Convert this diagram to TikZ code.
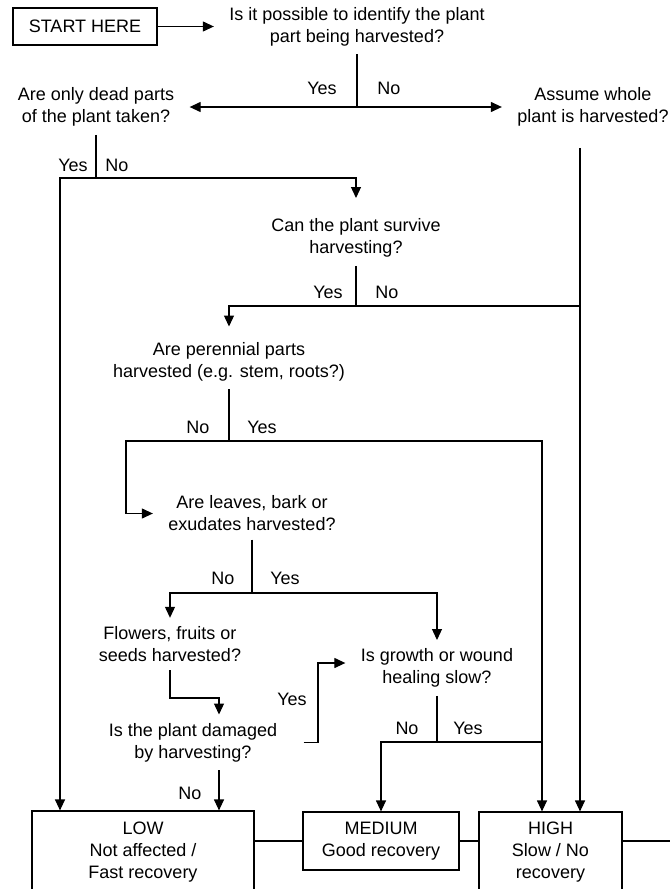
\documentclass[tikz,border=0pt]{standalone}
\usepackage{fontspec}
\setmainfont{Liberation Sans}
\usetikzlibrary{arrows.meta}

\begin{document}
\begin{tikzpicture}[x=1pt, y=-1pt, >={Triangle[length=11pt,width=10pt]}, line width=1.2pt,
    every node/.style={font=\fontsize{18}{22}\selectfont},
    q/.style={align=center, inner xsep=15pt, inner ysep=8pt},
    lbl/.style={inner sep=0pt},
    res/.style={draw, align=center, inner sep=0pt}]

        \clip (0,0) rectangle (670,889);

        % Questions
        \node[res, minimum width=144pt, minimum height=37pt] (start) at (85,26.5) {START HERE};
        \node[q] (ident) at (357,26.5) {Is it possible to identify the plant\\part being harvested?};
        \node[q] (dead) at (96,107) {Are only dead parts\\of the plant taken?};
        \node[q] (whole) at (593,107) {Assume whole\\plant is harvested?};
        \node[q] (surv) at (356,238) {Can the plant survive\\harvesting?};
        \node[q] (peren) at (229,361.5) {Are perennial parts\\harvested (e.g. stem, roots?)};
        \node[q] (leaves) at (252,513.5) {Are leaves, bark or\\exudates harvested?};
        \node[q] (flow) at (170,644) {Flowers, fruits or\\seeds harvested?};
        \node[q] (growth) at (437,668) {Is growth or wound\\healing slow?};
        \node[q] (damg) at (193,742.5) {Is the plant damaged\\by harvesting?};

        % Outcomes
        \node[res, minimum width=222pt, minimum height=82pt] (low) at (143,852) {LOW\\Not affected /\\Fast recovery};
        \node[res, minimum width=156pt, minimum height=58pt] (med) at (381,841) {MEDIUM\\Good recovery};
        \node[res, minimum width=143pt, minimum height=80pt] (high) at (550.5,852) {HIGH\\Slow / No\\recovery};

        % Junctions and corners
        \coordinate (j1) at (357,107);
        \coordinate (j2) at (96,178);
        \coordinate (j3) at (356,306);
        \coordinate (j4) at (229,441);
        \coordinate (j5) at (252,593);
        \coordinate (j6) at (437,742);
        \coordinate (kl) at (60,178);
        \coordinate (kw) at (580,306);
        \coordinate (kp) at (542,441);
        \coordinate (kx) at (126,441);
        \coordinate (kf) at (219,698);
        \coordinate (ky) at (318,663);
        \coordinate (redge) at (670,841);

        % Yes / No labels
        \node[lbl] (yes1) at (322,88) {Yes};
        \node[lbl] (no1) at (389,88) {No};
        \node[lbl] (yes2) at (73,165) {Yes};
        \node[lbl] (no2) at (117,165) {No};
        \node[lbl] (yes3) at (328,292) {Yes};
        \node[lbl] (no3) at (387,292) {No};
        \node[lbl] (no4) at (198,427) {No};
        \node[lbl] (yes4) at (262,427) {Yes};
        \node[lbl] (no5) at (223,578) {No};
        \node[lbl] (yes5) at (285,578) {Yes};
        \node[lbl] (yes7) at (292,699) {Yes};
        \node[lbl] (no7) at (190,793) {No};
        \node[lbl] (no6) at (407,728) {No};
        \node[lbl] (yes6) at (468,728) {Yes};

        % Connectors
        \draw[->] (start) -- (ident);
        \draw (ident) -- (j1);
        \draw[<->] (dead) -- (whole);

        \draw (dead) -- (j2);
        \draw[->] (j2) -- (kl) -- (kl |- low.north);
        \draw[->, shorten >=12pt] (j2) -| (surv.north);
        \draw[->, shorten <=13pt] (whole.south -| kw) -- (kw |- high.north);

        \draw (surv) -- (j3);
        \draw (j3) -- (kw);
        \draw[->, shorten >=7pt] (j3) -| (peren.north);

        \draw (peren) -- (j4);
        \draw[->] (j4) -| (kp |- high.north);
        \draw[->] (j4) -| (kx |- leaves) -- (leaves);

        \draw (leaves) -- (j5);
        \draw[->] (j5) -| (flow.north);
        \draw[->] (j5) -| (growth.north);

        \draw[->] (flow.south) |- (kf) -- (kf |- damg.north);
        \draw[->, shorten <=11pt] (damg.east) -| (ky) -- (ky -| growth.west);
        \draw[->] (damg.south -| kf) -- (kf |- low.north);

        \draw (growth) -- (j6);
        \draw[->] (j6) -| (med.north);
        \draw (j6) -- (j6 -| kp);

        \draw (low.east |- med) -- (med);
        \draw (med.east) -- (med.east -| high.west);
        \draw (high.east |- med.east) -- (redge);

    \end{tikzpicture}
\end{document}
